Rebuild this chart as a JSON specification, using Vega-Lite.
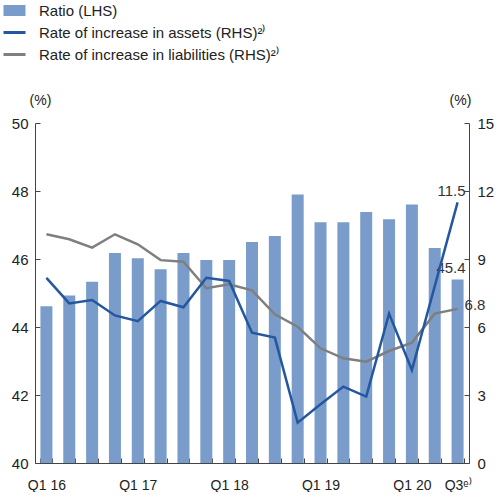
{
  "$schema": "https://vega.github.io/schema/vega-lite/v6.json",
  "width": 434,
  "height": 340,
  "padding": {"left": 7, "top": 3, "right": 0, "bottom": 0},
  "config": {
    "view": {"stroke": null},
    "font": "Liberation Sans",
    "axis": {"grid": false, "domainColor": "#444", "tickColor": "#444", "labelColor": "#222", "titleColor": "#222", "titleFontWeight": "normal"}
  },
  "data": {"values": [
    {"q": "Q1 16", "ratio": 44.61, "assets": 8.17, "liab": 10.09},
    {"q": "Q2 16", "ratio": 44.93, "assets": 7.04, "liab": 9.87},
    {"q": "Q3 16", "ratio": 45.33, "assets": 7.19, "liab": 9.5},
    {"q": "Q4 16", "ratio": 46.18, "assets": 6.51, "liab": 10.09},
    {"q": "Q1 17", "ratio": 46.02, "assets": 6.26, "liab": 9.65},
    {"q": "Q2 17", "ratio": 45.7, "assets": 7.15, "liab": 8.95},
    {"q": "Q3 17", "ratio": 46.18, "assets": 6.87, "liab": 8.88},
    {"q": "Q4 17", "ratio": 45.97, "assets": 8.17, "liab": 7.71},
    {"q": "Q1 18", "ratio": 45.97, "assets": 8.03, "liab": 7.88},
    {"q": "Q2 18", "ratio": 46.5, "assets": 5.75, "liab": 7.62},
    {"q": "Q3 18", "ratio": 46.68, "assets": 5.53, "liab": 6.56},
    {"q": "Q4 18", "ratio": 47.9, "assets": 1.78, "liab": 6.01},
    {"q": "Q1 19", "ratio": 47.08, "assets": 2.59, "liab": 5.06},
    {"q": "Q2 19", "ratio": 47.08, "assets": 3.37, "liab": 4.62},
    {"q": "Q3 19", "ratio": 47.38, "assets": 2.93, "liab": 4.47},
    {"q": "Q4 19", "ratio": 47.17, "assets": 6.59, "liab": 4.94},
    {"q": "Q1 20", "ratio": 47.6, "assets": 4.1, "liab": 5.31},
    {"q": "Q2 20", "ratio": 46.32, "assets": 7.8, "liab": 6.59},
    {"q": "Q3 20", "ratio": 45.4, "assets": 11.5, "liab": 6.8}
  ]},
  "encoding": {
    "x": {
      "field": "q", "type": "ordinal", "sort": null,
      "scale": {"paddingInner": 0.475, "paddingOuter": 0.2375},
      "axis": {
        "title": null, "labelAngle": 0, "labelOverlap": false, "tickBand": "extent",
        "tickSize": -5, "labelPadding": 20, "labelFontSize": 14,
        "labelExpr": "(datum.value == 'Q1 16' || datum.value == 'Q1 17' || datum.value == 'Q1 18' || datum.value == 'Q1 19' || datum.value == 'Q1 20') ? datum.value : (datum.value == 'Q3 20' ? 'Q3\\u1d49\\u207e' : '')"
      }
    }
  },
  "layer": [
    {
      "layer": [
        {
          "mark": {"type": "bar"},
          "encoding": {
            "y": {"field": "ratio", "type": "quantitative",
              "scale": {"domain": [40, 50], "zero": false, "nice": false},
              "axis": {"orient": "left", "values": [40, 42, 44, 46, 48, 50], "tickSize": -5, "labelPadding": 12, "labelFontSize": 15,
                "title": "(%)", "titleAngle": 0, "titleAlign": "center", "titleBaseline": "middle", "titleX": 5, "titleY": -23, "titleFontSize": 14}},
            "y2": {"datum": 40},
            "color": {"datum": "Ratio (LHS)", "type": "nominal",
              "scale": {"domain": ["Ratio (LHS)", "Rate of increase in assets (RHS)²⁾", "Rate of increase in liabilities (RHS)²⁾"], "range": ["#7A9CCB", "#2457A0", "#7F7F7F"]},
              "legend": {"title": null, "orient": "none", "legendX": -28, "legendY": -120, "symbolSize": 484, "labelFontSize": 15, "labelColor": "#222", "labelOffset": 17, "labelLimit": 400, "rowPadding": 6, "padding": 0,
                "encode": {"symbols": {"update": {
                  "shape": {"signal": "datum.value === 'Ratio (LHS)' ? 'M-1,-0.5H1V0.5H-1Z' : 'stroke'"},
                  "strokeWidth": {"signal": "datum.value === 'Ratio (LHS)' ? 0 : 3"},
                  "fill": {"scale": "color", "field": "value"},
                  "stroke": {"scale": "color", "field": "value"},
                  "opacity": {"value": 1},
                  "fillOpacity": {"value": 1}
                }}}}
            }
          }
        },
        {
          "transform": [{"filter": "datum.q == 'Q3 20'"}],
          "mark": {"type": "text", "align": "right", "baseline": "middle", "dx": 8, "dy": -11, "fontSize": 15, "color": "#333"},
          "encoding": {
            "y": {"field": "ratio", "type": "quantitative"},
            "text": {"field": "ratio", "type": "quantitative", "format": ".1f"}
          }
        }
      ]
    },
    {
      "layer": [
        {
          "mark": {"type": "line", "strokeWidth": 2.5},
          "encoding": {
            "y": {"field": "liab", "type": "quantitative",
              "scale": {"domain": [0, 15], "nice": false},
              "axis": {"orient": "right", "values": [0, 3, 6, 9, 12, 15], "tickSize": -5, "labelPadding": 13, "labelFontSize": 15,
                "title": "(%)", "titleAngle": 0, "titleAlign": "center", "titleBaseline": "middle", "titleX": -9, "titleY": -23, "titleFontSize": 14}},
            "color": {"datum": "Rate of increase in liabilities (RHS)²⁾", "type": "nominal"}
          }
        },
        {
          "mark": {"type": "line", "strokeWidth": 2.5},
          "encoding": {
            "y": {"field": "assets", "type": "quantitative",
              "scale": {"domain": [0, 15], "nice": false},
              "axis": {"orient": "right", "values": [0, 3, 6, 9, 12, 15], "tickSize": -5, "labelPadding": 13, "labelFontSize": 15,
                "title": "(%)", "titleAngle": 0, "titleAlign": "center", "titleBaseline": "middle", "titleX": -9, "titleY": -23, "titleFontSize": 14}},
            "color": {"datum": "Rate of increase in assets (RHS)²⁾", "type": "nominal"}
          }
        },
        {
          "transform": [{"filter": "datum.q == 'Q3 20'"}],
          "mark": {"type": "text", "align": "right", "baseline": "middle", "dx": 8, "dy": -11, "fontSize": 15, "color": "#333"},
          "encoding": {
            "y": {"field": "assets", "type": "quantitative"},
            "text": {"field": "assets", "type": "quantitative", "format": ".1f"}
          }
        },
        {
          "transform": [{"filter": "datum.q == 'Q3 20'"}],
          "mark": {"type": "text", "align": "left", "baseline": "middle", "dx": 7, "dy": -4, "fontSize": 15, "color": "#333"},
          "encoding": {
            "y": {"field": "liab", "type": "quantitative"},
            "text": {"field": "liab", "type": "quantitative", "format": ".1f"}
          }
        }
      ]
    }
  ],
  "resolve": {"scale": {"y": "independent"}}
}
